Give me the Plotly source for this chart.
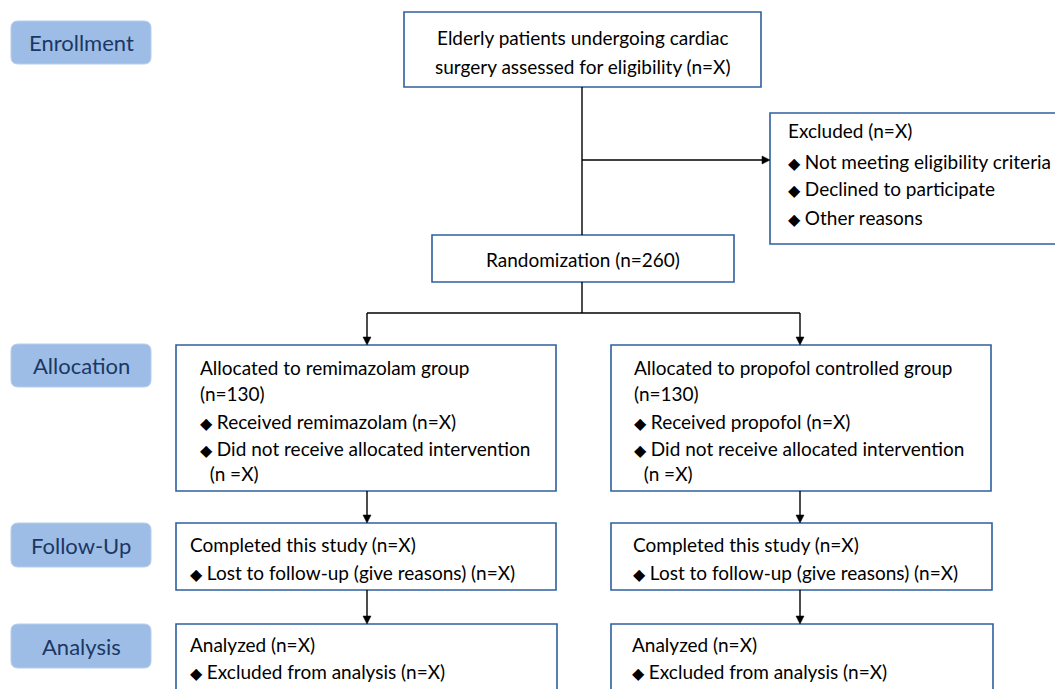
import plotly.graph_objects as go

# ---- content ----
stage_labels = ["Enrollment", "Allocation", "Follow-Up", "Analysis"]

top_box_lines = ["Elderly patients undergoing cardiac",
                 "surgery assessed for eligibility (n=X)"]
excluded_lines = ["Excluded (n=X)",
                  "◆ Not meeting eligibility criteria",
                  "◆ Declined to participate",
                  "◆ Other reasons"]
random_lines = ["Randomization (n=260)"]
alloc_left_lines = ["Allocated to remimazolam group", "(n=130)",
                    "◆ Received remimazolam (n=X)",
                    "◆ Did not receive allocated intervention",
                    "  (n =X)"]
alloc_right_lines = ["Allocated to propofol controlled group", "(n=130)",
                     "◆ Received propofol (n=X)",
                     "◆ Did not receive allocated intervention",
                     "  (n =X)"]
follow_left_lines = ["Completed this study (n=X)",
                     "◆ Lost to follow-up (give reasons) (n=X)"]
follow_right_lines = ["Completed this study (n=X)",
                      "◆ Lost to follow-up (give reasons) (n=X)"]
analysis_left_lines = ["Analyzed (n=X)", "◆ Excluded from analysis (n=X)"]
analysis_right_lines = ["Analyzed (n=X)", "◆ Excluded from analysis (n=X)"]

# ---- layout (pixel coordinates) ----
W, H = 1055, 689
FONT = "Lato, 'Open Sans', sans-serif"
BORDER = "#2f5f9f"
STAGE_FILL = "#9dbde6"
STAGE_TEXT = "#1c3764"
TXT_SIZE = 19

stage_pos = [(11, 21, 151, 64), (11, 344, 151, 387), (11, 523, 151, 567), (11, 624, 151, 668)]

boxes = [
    # (x0, y0, x1, y1, lines, text_x (None=center), line_ys)
    (404, 12, 761, 87, top_box_lines, None, [37, 66]),
    (770, 113, 1065, 244, excluded_lines, 786, [130, 161, 188, 217]),
    (432, 235, 734, 282, random_lines, None, [259]),
    (176, 345, 556, 491, alloc_left_lines, 198, [367, 393, 421, 448, 473]),
    (611, 345, 991, 491, alloc_right_lines, 632, [367, 393, 421, 448, 473]),
    (176, 523, 556, 590, follow_left_lines, 188, [544, 572]),
    (611, 523, 992, 590, follow_right_lines, 631, [544, 572]),
    (176, 624, 557, 700, analysis_left_lines, 188, [644, 671]),
    (611, 624, 993, 700, analysis_right_lines, 630, [644, 671]),
]

lines = [
    (582, 87, 582, 235),
    (582, 282, 582, 313),
    (367, 313, 800, 313),
]
v_arrows = [
    (367, 313, 345), (800, 313, 345),
    (367, 491, 523), (800, 491, 523),
    (367, 590, 624), (800, 590, 624),
]
h_arrows = [(582, 770, 160)]

shapes = []
annotations = []

def rounded(x0, y0, x1, y1, r):
    return (f"M {x0+r},{y0} L {x1-r},{y0} Q {x1},{y0} {x1},{y0+r} "
            f"L {x1},{y1-r} Q {x1},{y1} {x1-r},{y1} L {x0+r},{y1} "
            f"Q {x0},{y1} {x0},{y1-r} L {x0},{y0+r} Q {x0},{y0} {x0+r},{y0} Z")

def fmt(t):
    t = t.replace("  ", "&nbsp;&nbsp;")
    return t.replace("◆", "<span style='font-size:16px'>◆</span>")

for label, (x0, y0, x1, y1) in zip(stage_labels, stage_pos):
    shapes.append(dict(type="path", path=rounded(x0, y0, x1, y1, 7),
                       fillcolor=STAGE_FILL, line=dict(color="#b5cdec", width=1),
                       xref="x", yref="y", layer="below"))
    annotations.append(dict(x=(x0 + x1) / 2, y=(y0 + y1) / 2, text=label,
                            showarrow=False, xanchor="center", yanchor="middle",
                            font=dict(family=FONT, size=22, color=STAGE_TEXT)))

for x0, y0, x1, y1, txt, tx, ys in boxes:
    shapes.append(dict(type="rect", x0=x0, y0=y0, x1=x1, y1=y1,
                       line=dict(color=BORDER, width=1.6), fillcolor="white",
                       xref="x", yref="y", layer="below"))
    for t, yy in zip(txt, ys):
        if tx is None:
            annotations.append(dict(x=(x0 + x1) / 2, y=yy, text=fmt(t), showarrow=False,
                                    xanchor="center", yanchor="middle",
                                    font=dict(family=FONT, size=TXT_SIZE, color="black")))
        else:
            annotations.append(dict(x=tx, y=yy, text=fmt(t),
                                    showarrow=False, xanchor="left", yanchor="middle",
                                    font=dict(family=FONT, size=TXT_SIZE, color="black")))

LW = 1.4
for x0, y0, x1, y1 in lines:
    shapes.append(dict(type="line", x0=x0, y0=y0, x1=x1, y1=y1,
                       line=dict(color="black", width=LW), xref="x", yref="y"))

AH, AW = 8, 4
for x, yf, yt in v_arrows:
    shapes.append(dict(type="line", x0=x, y0=yf, x1=x, y1=yt - AH + 1,
                       line=dict(color="black", width=LW), xref="x", yref="y"))
    shapes.append(dict(type="path",
                       path=f"M {x-AW},{yt-AH} L {x+AW},{yt-AH} L {x},{yt} Z",
                       fillcolor="black", line=dict(color="black", width=0.5),
                       xref="x", yref="y"))
for xf, xt, y in h_arrows:
    shapes.append(dict(type="line", x0=xf, y0=y, x1=xt - AH + 1, y1=y,
                       line=dict(color="black", width=LW), xref="x", yref="y"))
    shapes.append(dict(type="path",
                       path=f"M {xt-AH},{y-AW} L {xt-AH},{y+AW} L {xt},{y} Z",
                       fillcolor="black", line=dict(color="black", width=0.5),
                       xref="x", yref="y"))

fig = go.Figure()
fig.update_layout(
    width=W, height=H,
    margin=dict(l=0, r=0, t=0, b=0),
    paper_bgcolor="white", plot_bgcolor="white",
    xaxis=dict(range=[0, W], visible=False, fixedrange=True),
    yaxis=dict(range=[H, 0], visible=False, fixedrange=True),
    shapes=shapes, annotations=annotations, showlegend=False,
)
fig.write_html("out.html", config={"displayModeBar": False},
               post_script="document.body.style.margin='0';document.body.style.overflow='hidden';")
